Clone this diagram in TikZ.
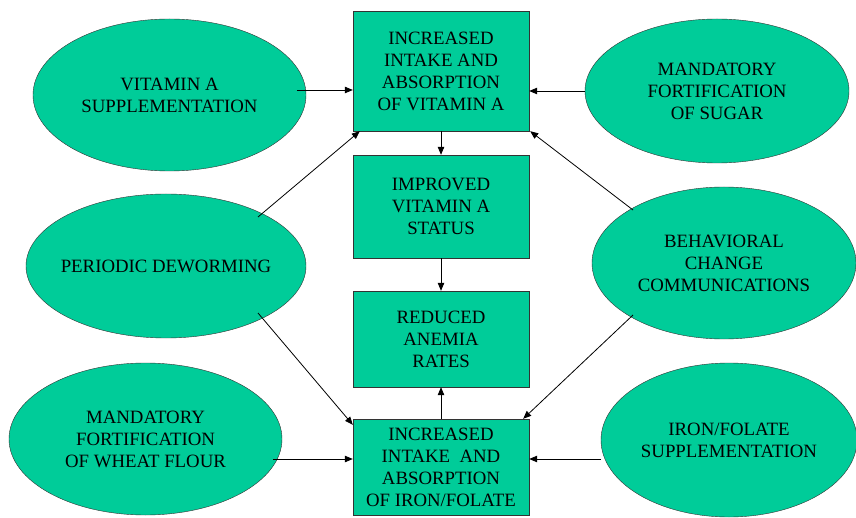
\documentclass[tikz,border=0pt]{standalone}
\usepackage{fontspec}
\setmainfont{Liberation Serif}
\usetikzlibrary{shapes.geometric,arrows.meta}

\definecolor{tealgreen}{HTML}{00CC99}

\tikzset{
	box/.style={draw=black!80, fill=tealgreen, rectangle, inner sep=0pt, minimum width=176pt, align=center, font=\fontsize{18.8}{22}\selectfont},
	oval/.style={draw=black!80, fill=tealgreen, ellipse, inner sep=0pt, align=center, font=\fontsize{18.8}{22}\selectfont},
	arr/.style={draw=black, line width=0.8pt, -{Triangle[length=8pt,width=6.5pt]}}
}

\begin{document}
\begin{tikzpicture}[x=1pt,y=-1pt]
		\useasboundingbox (0,0) rectangle (856,518);

		%CAJAS
		\node[box, minimum height=120pt] (vitA) at (441,71) {INCREASED\\INTAKE AND\\ABSORPTION\\OF VITAMIN A};
		\node[box, minimum height=103pt] (status) at (441,206.5) {IMPROVED\\VITAMIN A\\STATUS};
		\node[box, minimum height=96pt] (anemia) at (441,339) {REDUCED\\ANEMIA\\RATES};
		\node[box, minimum height=96pt] (iron) at (441,467) {INCREASED\\INTAKE~ AND\\ABSORPTION\\OF IRON/FOLATE};

		%ELIPSES
		\node[oval, minimum width=273pt, minimum height=152pt] (vasupp) at (169.5,95) {VITAMIN A\\SUPPLEMENTATION};
		\node[oval, minimum width=264pt, minimum height=144pt] (sugar) at (717,91) {MANDATORY\\FORTIFICATION\\OF SUGAR};
		\node[oval, minimum width=280pt, minimum height=144pt, inner xsep=-12pt] (deworm) at (166,266) {PERIODIC DEWORMING};
		\node[oval, minimum width=264pt, minimum height=152pt] (bcc) at (724,263) {BEHAVIORAL\\CHANGE\\COMMUNICATIONS};
		\node[oval, minimum width=273pt, minimum height=152pt] (wheat) at (145.5,439) {MANDATORY\\FORTIFICATION\\OF WHEAT FLOUR};
		\node[oval, minimum width=256pt, minimum height=154pt] (ifsupp) at (729,440) {IRON/FOLATE\\SUPPLEMENTATION};

		%FLECHAS
		\draw[arr] ([xshift=-56pt,yshift=-19pt]vitA.west) -- ([yshift=-19pt]vitA.west);
		\draw[arr] (sugar.west) -- (sugar.west -| vitA.east);
		\draw[arr] ([shift={(92pt,49pt)}]deworm.center) -- ([xshift=7pt]vitA.south west);
		\draw[arr] ([shift={(92pt,-47pt)}]deworm.center) -- ([yshift=-6pt]iron.north west);
		\draw[arr] ([shift={(-91pt,53pt)}]bcc.center) -- ([xshift=1pt]vitA.south east);
		\draw[arr] ([shift={(-91pt,-52pt)}]bcc.center) -- ([xshift=-6pt]iron.north east);
		\draw[arr] ([shift={(127.5pt,-20pt)}]wheat.center) -- ([yshift=8pt]iron.west);
		\draw[arr] (ifsupp.west |- 0,459) -- ([yshift=8pt]iron.east);
		\draw[arr] (vitA) -- (status);
		\draw[arr] (status) -- (anemia);
		\draw[arr] (iron) -- (anemia);
	\end{tikzpicture}
\end{document}
